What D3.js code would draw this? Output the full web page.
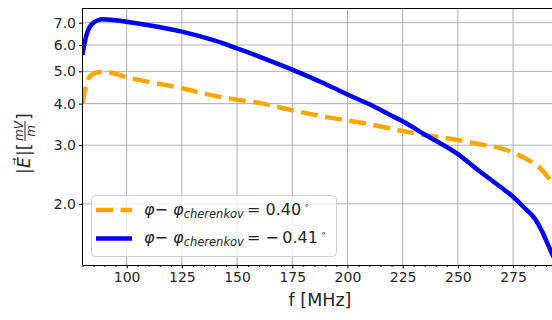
<!DOCTYPE html>
<html>
<head>
<meta charset="utf-8">
<script src="https://cdn.jsdelivr.net/npm/d3@7"></script>
<style>
  body { margin: 0; background: #fff; }
  svg { display: block; font-family: "DejaVu Sans", sans-serif; }
</style>
</head>
<body>
<div id="chart"></div>
<script>
// Data
const freqs = [80, 81, 82, 83, 85, 87, 89, 91, 95, 100, 110, 125, 140, 150, 160, 175, 190, 200,
  210, 220, 225, 235, 250, 260, 270, 275, 280, 285, 288, 291, 293, 295];
const eBlue = [5.6, 6.1, 6.5, 6.75, 7.0, 7.12, 7.17, 7.16, 7.12, 7.05, 6.88, 6.58, 6.18, 5.86, 5.54, 5.06, 4.58, 4.26,
  3.98, 3.68, 3.54, 3.23, 2.82, 2.50, 2.23, 2.10, 1.95, 1.80, 1.66, 1.50, 1.40, 1.33];
const eOrange = [4.0, 4.35, 4.6, 4.8, 4.92, 4.97, 4.99, 4.97, 4.92, 4.80, 4.65, 4.45, 4.22, 4.11, 4.02, 3.82, 3.65, 3.56,
  3.47, 3.36, 3.31, 3.22, 3.11, 3.02, 2.93, 2.85, 2.75, 2.63, 2.53, 2.40, 2.32, 2.25];
const xTicks = [100, 125, 150, 175, 200, 225, 250, 275];
const yTicks = [2, 3, 4, 5, 6, 7];
const legendValues = ["0.40", "\u2212\u20090.41"];

// Layout
const width = 552, height = 320;
const plotLeft = 82.5, plotTop = 8, plotBottom = 265;

const svg = d3.select("#chart").append("svg")
  .attr("width", width)
  .attr("height", height);

const x = d3.scaleLinear().domain([80, 295]).range([plotLeft, 557.2]);
const y = d3.scaleLog().domain([1.31, 7.75]).range([plotBottom, plotTop]);

svg.append("clipPath").attr("id", "plot")
  .append("rect")
    .attr("x", plotLeft).attr("y", plotTop)
    .attr("width", width - plotLeft).attr("height", plotBottom - plotTop);

// grid
const grid = svg.append("g").attr("stroke", "#b0b0b0").attr("stroke-width", 1);
grid.selectAll("line.gx").data(xTicks).join("line")
  .attr("x1", d => x(d)).attr("x2", d => x(d))
  .attr("y1", plotTop).attr("y2", plotBottom);
grid.selectAll("line.gy").data(yTicks).join("line")
  .attr("x1", plotLeft).attr("x2", width)
  .attr("y1", d => y(d)).attr("y2", d => y(d));

// curves
const line = d3.line()
  .x((d, i) => x(freqs[i]))
  .y(d => y(d))
  .curve(d3.curveMonotoneX);

const curves = svg.append("g").attr("clip-path", "url(#plot)").attr("fill", "none");
curves.append("path")
  .attr("d", line(eOrange))
  .attr("stroke", "orange")
  .attr("stroke-width", 4.5)
  .attr("stroke-dasharray", "17,7.5");
curves.append("path")
  .attr("d", line(eBlue))
  .attr("stroke", "blue")
  .attr("stroke-width", 4.5)
  .attr("stroke-linejoin", "round");

// axes
const xAxis = d3.axisBottom(x)
  .tickValues(d3.range(80, 296, 5))
  .tickFormat(d => xTicks.includes(d) ? d : "")
  .tickSizeOuter(0);
const gx = svg.append("g").attr("transform", `translate(0,${plotBottom})`).call(xAxis);
gx.selectAll(".tick line")
  .attr("y2", d => xTicks.includes(d) ? 3.5 : 2)
  .attr("stroke", "#000");
gx.selectAll(".tick text").attr("y", 7).attr("font-size", 14).attr("fill", "#262626")
  .attr("font-family", "DejaVu Sans");
gx.select(".domain").attr("stroke", "#000");

const yAxis = d3.axisLeft(y)
  .tickValues(yTicks)
  .tickFormat(d3.format(".1f"))
  .tickSize(3.5)
  .tickSizeOuter(0);
const gy = svg.append("g").attr("transform", `translate(${plotLeft},0)`).call(yAxis);
gy.selectAll(".tick text").attr("x", -6.5).attr("font-size", 14).attr("fill", "#262626")
  .attr("font-family", "DejaVu Sans");
gy.selectAll(".tick line").attr("stroke", "#000");
gy.select(".domain").attr("d", `M0,${plotTop}V${plotBottom}`).attr("stroke", "#000");

// top spine
svg.append("line")
  .attr("x1", plotLeft).attr("x2", width)
  .attr("y1", plotTop + 0.5).attr("y2", plotTop + 0.5)
  .attr("stroke", "#000");

// x label
svg.append("text")
  .attr("x", 320).attr("y", 306)
  .attr("text-anchor", "middle")
  .attr("font-size", 17.5).attr("fill", "#262626")
  .text("f [MHz]");

// y label |E|[mV/m]
const yl = svg.append("g")
  .attr("transform", "translate(30,138) rotate(-90)")
  .attr("fill", "#262626");
yl.append("text").attr("x", -36).attr("y", 0).attr("font-size", 17)
  .text("|");
yl.append("text").attr("x", -30).attr("y", 0).attr("font-size", 17)
  .attr("font-style", "italic").text("E");
yl.append("text").attr("x", -27).attr("y", -13).attr("font-size", 9)
  .text("\u2192");
yl.append("text").attr("x", -18).attr("y", 0).attr("font-size", 17)
  .text("|[");
yl.append("text").attr("x", 7).attr("y", -7.5).attr("font-size", 12)
  .attr("text-anchor", "middle").attr("font-style", "italic").text("mV");
yl.append("line").attr("x1", -3).attr("x2", 17).attr("y1", -5).attr("y2", -5)
  .attr("stroke", "#262626").attr("stroke-width", 1);
yl.append("text").attr("x", 7).attr("y", 5).attr("font-size", 12)
  .attr("text-anchor", "middle").attr("font-style", "italic").text("m");
yl.append("text").attr("x", 18).attr("y", 0).attr("font-size", 17)
  .text("]");

// legend
const legend = svg.append("g");
legend.append("rect")
  .attr("x", 91.5).attr("y", 195.5)
  .attr("width", 245).attr("height", 61)
  .attr("rx", 4)
  .attr("fill", "#fff").attr("fill-opacity", 0.8)
  .attr("stroke", "#d0d0d0");

const entries = [
  { color: "orange", dash: "17,7.5", label: legendValues[0] },
  { color: "blue", dash: null, label: legendValues[1] }
];
const rows = legend.selectAll("g.row").data(entries).join("g")
  .attr("transform", (d, i) => `translate(0,${210 + i * 28.5})`);
rows.append("line")
  .attr("x1", 96).attr("x2", 132)
  .attr("stroke", d => d.color)
  .attr("stroke-width", 4.5)
  .attr("stroke-dasharray", d => d.dash);
const lt = rows.append("text")
  .attr("x", 144).attr("y", 4.5)
  .attr("font-size", 16).attr("fill", "#262626");
lt.append("tspan").attr("font-style", "italic").text("\u03c6");
lt.append("tspan").text("\u2212 ");
lt.append("tspan").attr("font-style", "italic").text("\u03c6");
lt.append("tspan").attr("font-style", "italic").attr("font-size", 11.5).attr("dy", 3).text("cherenkov");
lt.append("tspan").attr("dy", -3).text(d => "\u2009= " + d.label);
lt.append("tspan").attr("font-size", 9).attr("dy", -7).text(" \u2218");
</script>
</body>
</html>
